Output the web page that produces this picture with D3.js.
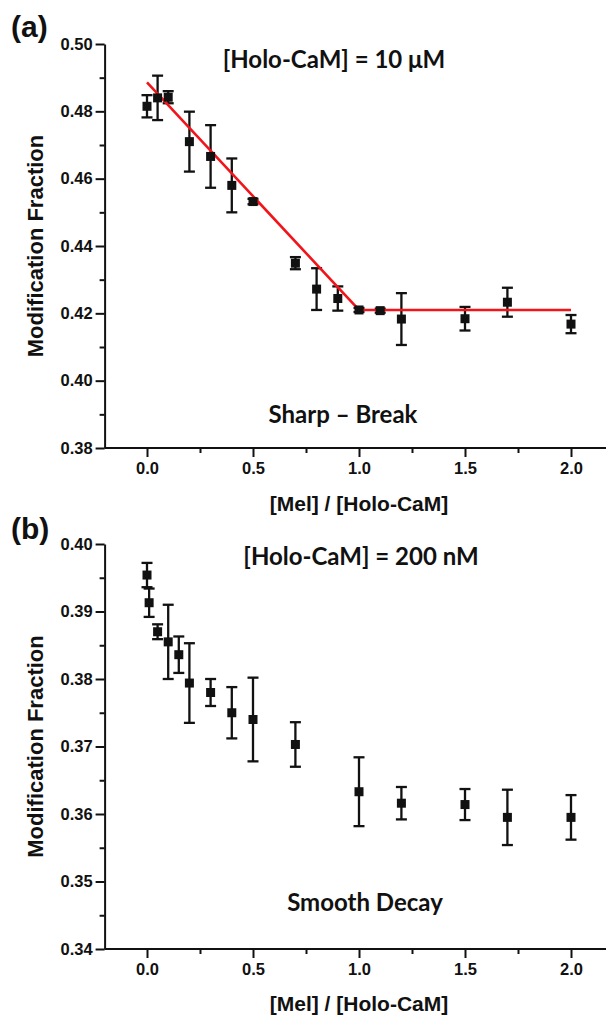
<!DOCTYPE html>
<html>
<head>
<meta charset="utf-8">
<script src="https://cdn.jsdelivr.net/npm/d3@7"></script>
<style>
  body { margin: 0; background: #fff; }
  svg { display: block; }
  .tick text { font-family: "Liberation Sans", Arial, sans-serif; font-weight: bold; font-size: 16.5px; fill: #111; }
  .axis path, .axis line { stroke: #111; stroke-width: 2; }
</style>
</head>
<body>
<div id="chart"></div>
<script>
// panel (a): [Holo-CaM] = 10 uM
const xA = [0, 0.05, 0.1, 0.2, 0.3, 0.4, 0.5, 0.7, 0.8, 0.9, 1.0, 1.1, 1.2, 1.5, 1.7, 2.0];
const yA = [0.4815, 0.4840, 0.4842, 0.4710, 0.4666, 0.4580, 0.4532, 0.4349, 0.4272, 0.4244, 0.4210, 0.4208, 0.4183, 0.4184, 0.4233, 0.4168];
const errA = [0.0033, 0.0066, 0.0018, 0.0089, 0.0093, 0.0080, 0.0008, 0.0018, 0.0062, 0.0036, 0.0006, 0.0006, 0.0077, 0.0035, 0.0043, 0.0027];
// sharp-break fit
const fitX = [0, 1.0, 2.0];
const fitY = [0.4886, 0.4210, 0.4210];

// panel (b): [Holo-CaM] = 200 nM
const xB = [0, 0.01, 0.05, 0.1, 0.15, 0.2, 0.3, 0.4, 0.5, 0.7, 1.0, 1.2, 1.5, 1.7, 2.0];
const yB = [0.3954, 0.3913, 0.3870, 0.3855, 0.3836, 0.3794, 0.3780, 0.3750, 0.3740, 0.3703, 0.3633, 0.3616, 0.3614, 0.3595, 0.3595];
const errB = [0.0018, 0.0021, 0.0011, 0.0055, 0.0027, 0.0059, 0.0020, 0.0038, 0.0062, 0.0033, 0.0051, 0.0024, 0.0023, 0.0041, 0.0033];

const xTicks = [0, 0.5, 1.0, 1.5, 2.0];
const xMinor = [0.25, 0.75, 1.25, 1.75];
const yTicksA = [0.38, 0.40, 0.42, 0.44, 0.46, 0.48, 0.50];
const yMinorA = [0.39, 0.41, 0.43, 0.45, 0.47, 0.49];
const yTicksB = [0.34, 0.35, 0.36, 0.37, 0.38, 0.39, 0.40];
const yMinorB = [0.345, 0.355, 0.365, 0.375, 0.385, 0.395];

const W = 606, H = 1015;
const svg = d3.select('#chart').append('svg').attr('width', W).attr('height', H);
svg.append('rect').attr('width', W).attr('height', H).attr('fill', '#fff');

const x = d3.scaleLinear().domain([-0.2, 2.2]).range([104.6, 613.4]);

function panel(opt) {
  const y = d3.scaleLinear().domain(opt.yDomain).range(opt.yRange);
  const g = svg.append('g');
  const x0 = x(-0.2), yBot = opt.yRange[0];

  // minor ticks
  g.append('g').attr('class', 'axis').attr('transform', `translate(0,${yBot})`)
    .call(d3.axisBottom(x).tickValues(xMinor).tickSize(5).tickSizeOuter(0).tickFormat(''))
    .select('.domain').remove();
  g.append('g').attr('class', 'axis').attr('transform', `translate(${x0},0)`)
    .call(d3.axisLeft(y).tickValues(opt.yMinor).tickSize(5).tickSizeOuter(0).tickFormat(''))
    .select('.domain').remove();

  // major axes
  const ax = g.append('g').attr('class', 'axis').attr('transform', `translate(0,${yBot})`)
    .call(d3.axisBottom(x).tickValues(xTicks).tickSize(9).tickSizeOuter(0).tickPadding(5).tickFormat(d3.format('.1f')));
  ax.select('.domain').attr('d', `M${x0},0H${W + 10}`);
  g.append('g').attr('class', 'axis').attr('transform', `translate(${x0},0)`)
    .call(d3.axisLeft(y).tickValues(opt.yTicks).tickSize(9).tickSizeOuter(0).tickPadding(3).tickFormat(d3.format('.2f')));

  // error bars
  const pts = opt.xs.map((v, i) => ({ x: v, y: opt.ys[i], e: opt.errs[i] }));
  const eb = g.append('g').attr('stroke', '#111').attr('stroke-width', 2.3);
  pts.forEach(p => {
    eb.append('line').attr('x1', x(p.x)).attr('x2', x(p.x)).attr('y1', y(p.y - p.e)).attr('y2', y(p.y + p.e));
    [p.y - p.e, p.y + p.e].forEach(v => {
      eb.append('line').attr('x1', x(p.x) - 5.5).attr('x2', x(p.x) + 5.5).attr('y1', y(v)).attr('y2', y(v));
    });
  });

  // fit line
  if (opt.fit) {
    g.append('path')
      .datum(opt.fit[0].map((v, i) => [v, opt.fit[1][i]]))
      .attr('fill', 'none').attr('stroke', '#f2141a').attr('stroke-width', 2.6)
      .attr('d', d3.line().x(d => x(d[0])).y(d => y(d[1])));
  }

  // markers
  g.append('g').selectAll('rect').data(pts).enter().append('rect')
    .attr('x', d => x(d.x) - 4.5).attr('y', d => y(d.y) - 4.5)
    .attr('width', 9).attr('height', 9).attr('fill', '#111');

  // axis titles
  g.append('text').attr('x', 359).attr('y', opt.xTitleY)
    .attr('text-anchor', 'middle')
    .style('font-family', '"Liberation Sans", Arial, sans-serif').style('font-weight', 'bold').style('font-size', '21px')
    .attr('fill', '#111').text('[Mel] / [Holo-CaM]');
  const cy = (opt.yRange[0] + opt.yRange[1]) / 2;
  g.append('text').attr('transform', `translate(43,${cy}) rotate(-90)`)
    .attr('text-anchor', 'middle')
    .style('font-family', '"Liberation Sans", Arial, sans-serif').style('font-weight', 'bold').style('font-size', '22px')
    .attr('fill', '#111').text('Modification Fraction');

  // annotations
  g.append('text').attr('x', opt.topX).attr('y', opt.topY).attr('text-anchor', 'middle').attr('dy', '0.35em')
    .style('font-family', 'Lato, "Open Sans", sans-serif').style('font-weight', 'bold').style('font-size', '24px')
    .attr('fill', '#111').text(opt.topText);
  g.append('text').attr('x', opt.botX).attr('y', opt.botY).attr('text-anchor', 'middle').attr('dy', '0.35em')
    .style('font-family', 'Lato, "Open Sans", sans-serif').style('font-weight', 'bold').style('font-size', '24px')
    .attr('fill', '#111').text(opt.botText);

  // panel letter
  g.append('text').attr('x', 11).attr('y', opt.letterY).attr('dy', '0.35em')
    .style('font-family', '"Liberation Sans", Arial, sans-serif').style('font-weight', 'bold').style('font-size', '30px')
    .attr('fill', '#111').text(opt.letter);
}

panel({
  yDomain: [0.38, 0.50], yRange: [448, 44], yTicks: yTicksA, yMinor: yMinorA,
  xs: xA, ys: yA, errs: errA, fit: [fitX, fitY],
  xTitleY: 511, topText: '[Holo-CaM] = 10 μM', topX: 334, topY: 60,
  botText: 'Sharp – Break', botX: 343, botY: 415, letter: '(a)', letterY: 26
});
panel({
  yDomain: [0.34, 0.40], yRange: [949, 544], yTicks: yTicksB, yMinor: yMinorB,
  xs: xB, ys: yB, errs: errB, fit: null,
  xTitleY: 1011, topText: '[Holo-CaM] = 200 nM', topX: 361, topY: 557,
  botText: 'Smooth Decay', botX: 365, botY: 903, letter: '(b)', letterY: 528
});
</script>
</body>
</html>
